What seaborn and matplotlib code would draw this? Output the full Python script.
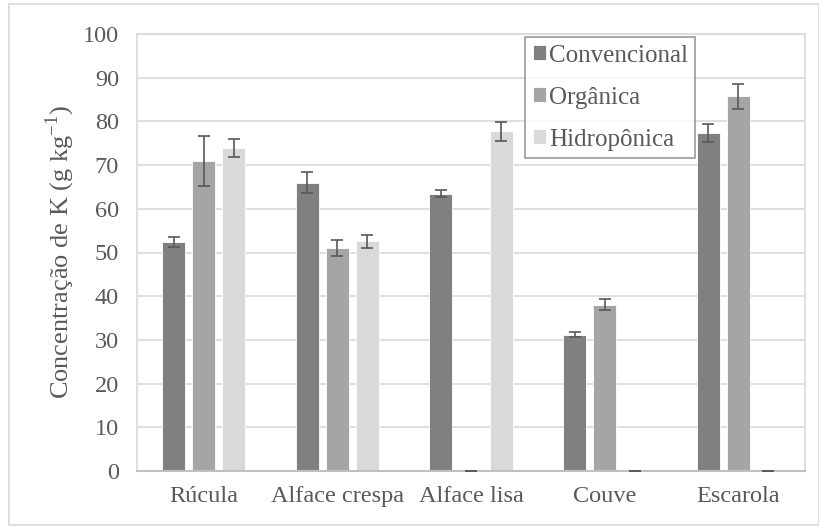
import matplotlib
matplotlib.use("Agg")
import matplotlib.pyplot as plt
import seaborn as sns
import pandas as pd
import numpy as np
from matplotlib.patches import Rectangle

categories = ["Rúcula", "Alface crespa", "Alface lisa", "Couve", "Escarola"]
series = ["Convencional", "Orgânica", "Hidropônica"]
convencional = [52.4, 66.0, 63.5, 31.2, 77.3]
organica = [71.0, 51.0, 0.0, 38.1, 85.7]
hidroponica = [73.9, 52.6, 77.7, 0.0, 0.0]
err_convencional = [1.2, 2.4, 0.8, 0.6, 2.0]
err_organica = [5.7, 1.8, 0.0, 1.2, 2.9]
err_hidroponica = [2.0, 1.5, 2.2, 0.0, 0.0]
colors = ["#808080", "#a5a5a5", "#d9d9d9"]
yticks = [0, 10, 20, 30, 40, 50, 60, 70, 80, 90, 100]

rows = []
for s, vals, errs in zip(series, [convencional, organica, hidroponica],
                         [err_convencional, err_organica, err_hidroponica]):
    for c, v, e in zip(categories, vals, errs):
        rows.append({"cat": c, "serie": s, "val": v, "err": e})
df = pd.DataFrame(rows)

sns.set_style("white")
plt.rcParams["font.family"] = ["Liberation Serif", "DejaVu Serif"]

fig = plt.figure(figsize=(8.2, 5.26), dpi=100)
ax = fig.add_axes([137/820, 1-471/526, (805-137)/820, (471-34)/526])

sns.barplot(data=df, x="cat", y="val", hue="serie", order=categories,
            hue_order=series, palette=colors, errorbar=None, width=0.674,
            gap=0.233, ax=ax, edgecolor="white", linewidth=0.6, saturation=1)

# error bars positioned at bar centres
for s_i, s in enumerate(series):
    cont = ax.containers[s_i]
    sub = df[df.serie == s].set_index("cat").loc[categories]
    xs = [p.get_x() + p.get_width()/2 for p in cont.patches]
    ax.errorbar(xs, sub["val"].values, yerr=sub["err"].values, fmt="none",
                ecolor="#595959", elinewidth=1.2, capsize=4.3, capthick=1.2, zorder=5)

ax.set_ylim(0, 100)
ax.set_xlim(-0.5, 4.5)
ax.set_yticks(yticks)
ax.set_yticklabels([str(t) for t in yticks])
ax.yaxis.grid(True, color="#d9d9d9", linewidth=1.2)
ax.set_axisbelow(True)
ax.tick_params(axis="both", length=0, labelsize=17.5, colors="#595959")
ax.tick_params(axis="y", pad=13)
ax.tick_params(axis="x", pad=11)
for sp in ["top", "right", "left"]:
    ax.spines[sp].set_color("#d9d9d9")
    ax.spines[sp].set_linewidth(1.2)
ax.spines["bottom"].set_color("#bfbfbf")
ax.spines["bottom"].set_linewidth(1.5)
ax.set_xlabel("")
ax.set_ylabel("Concentração de K (g kg$^{\\mathregular{-1}}$)", fontsize=19,
              color="#595959", labelpad=4)

leg = ax.legend(loc="upper left", bbox_to_anchor=(0.581, 0.993), frameon=True,
                fancybox=False, edgecolor="#808080", fontsize=18,
                handlelength=0.55, handleheight=0.55, handletextpad=0.1,
                labelspacing=0.8, borderpad=0.3, borderaxespad=0)
leg.get_frame().set_linewidth(1.2)
for t in leg.get_texts():
    t.set_color("#595959")

fig.patches.append(Rectangle((9/820, 1/526), 810/820, 521/526, transform=fig.transFigure,
                             fill=False, edgecolor="#d9d9d9", linewidth=1.2))

fig.savefig("out.png", dpi=100)
